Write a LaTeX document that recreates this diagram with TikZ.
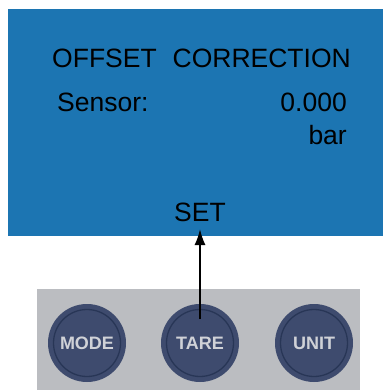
\documentclass[tikz,border=0pt]{standalone}
\usepackage{fontspec}
\setmainfont{Liberation Sans}
\usepackage{tikz}
\usetikzlibrary{arrows.meta, positioning, calc}
\definecolor{lcdblue}{RGB}{28,117,178}
\definecolor{panelgray}{RGB}{187,189,193}
\definecolor{keynavy}{RGB}{62,75,110}
\definecolor{keyring}{RGB}{40,54,86}
\definecolor{keytext}{RGB}{208,210,215}

\begin{document}
\begin{tikzpicture}[x=1pt, y=-1pt,
	lcdtext/.style={font=\fontsize{26.5}{30}\selectfont, text=black, inner sep=0pt},
	keybtn/.style={circle, fill=keynavy, minimum size=78pt, inner sep=0pt},
	keylabel/.style={text=keytext, font=\fontsize{18}{20}\selectfont\bfseries, inner sep=0pt},
	ring/.style={keyring, line width=1.3pt}]
	\useasboundingbox (0,0) rectangle (383,390);
	\pgfmathsetmacro{\keyy}{343}
	\pgfmathsetmacro{\ringr}{33.5}
	% display
	\fill[lcdblue] (8,9) rectangle (383,236);
	\node[lcdtext, anchor=base west] (title) at (52,68) {OFFSET\hspace{0.6em}CORRECTION};
	\node[lcdtext, anchor=base west] (sensor) at (57,112) {Sensor:};
	\node[lcdtext, anchor=base east] (value) at (347,112) {0.000};
	\node[lcdtext, anchor=base east] (unit) at (347,145) {bar};
	\node[lcdtext, anchor=base] (set) at (200,221) {SET};
	% key panel
	\fill[panelgray] (37,289) rectangle (360,390);
	\node[keybtn] (mode) at (87,\keyy) {};
	\node[keybtn] (tare) at (200,\keyy) {};
	\node[keybtn] (unitkey) at (314,\keyy) {};
	\draw[ring] (mode.center) circle (\ringr);
	\draw[ring] (tare.center) circle (\ringr);
	\draw[ring] (unitkey.center) circle (\ringr);
	\node[keylabel] (modetxt) at (mode.center) {MODE};
	\node[keylabel] (taretxt) at (tare.center) {TARE};
	\node[keylabel] (unittxt) at (unitkey.center) {UNIT};
	\draw[line width=1.8pt, -{Latex[length=16pt, width=11pt]}] ([yshift=24pt]tare.center) -- ([yshift=-8pt]set.base);
\end{tikzpicture}
\end{document}
